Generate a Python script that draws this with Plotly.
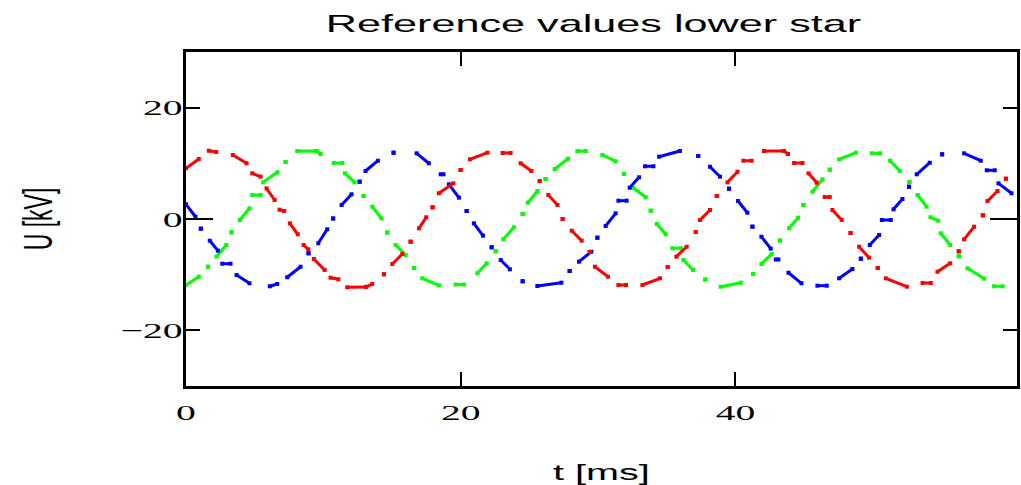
import plotly.graph_objects as go

# ---- data: each entry is one short run of samples (start -> end) ----
# t in ms, U in kV
red_t0 = [0.0, 1.66, 3.41, 4.82, 5.86, 6.81, 7.56, 8.56, 9.31, 10.52, 11.74, 13.12, 14.41, 15.02, 16.35, 16.96, 17.95, 18.41, 19.99, 20.67, 23.05, 24.36, 25.75, 26.38, 27.42, 28.08, 29.39, 29.77, 31.48, 33.23, 35.07, 35.70, 37.11, 37.42, 38.64, 39.42, 40.58, 42.08, 43.52, 44.27, 45.32, 46.50, 47.06, 48.38, 49.0, 50.36, 50.95, 53.62, 54.71, 56.26, 56.65, 58.01, 58.35, 59.69]
red_u0 = [9.11, 12.27, 11.50, 8.21, 5.51, 1.67, -0.77, -4.67, -7.19, -10.54, -12.27, -12.2, -9.93, -8.08, -4.08, -1.67, 2.10, 4.62, 8.80, 10.72, 11.86, 10.01, 6.83, 4.31, 0.0, -2.10, -5.93, -8.57, -11.86, -11.86, -8.62, -6.77, -2.34, -0.18, 4.13, 6.59, 10.47, 12.21, 12.21, 10.06, 8.21, 3.95, 1.62, -2.51, -4.98, -8.80, -10.65, -11.50, -9.47, -5.80, -3.65, 0.66, 3.23, 7.24]
red_t1 = [0.93, 2.20, 4.41, 5.43, 6.45, 7.15, 8.14, 8.90, 10.09, 11.09, 13.12, 13.56, 14.41, 15.75, 16.35, 17.49, 17.95, 19.46, 19.99, 21.94, 23.63, 25.14, 25.75, 27.04, 27.42, 28.81, 29.39, 30.72, 32.03, 34.51, 35.07, 36.45, 37.11, 38.15, 38.64, 40.15, 41.17, 43.52, 43.83, 44.88, 45.92, 46.87, 47.74, 48.38, 49.73, 50.36, 52.48, 54.22, 55.63, 56.26, 57.38, 58.01, 59.08, 59.69]
red_u1 = [10.78, 12.04, 10.01, 7.60, 3.41, 1.44, -2.75, -5.44, -9.16, -10.83, -12.2, -11.68, -9.93, -6.29, -4.08, 0.31, 2.10, 6.41, 8.80, 11.91, 11.86, 8.62, 6.83, 2.51, 0.0, -3.90, -5.93, -10.36, -11.86, -10.65, -8.62, -4.98, -2.34, 1.62, 4.13, 8.50, 10.47, 12.21, 11.68, 10.06, 6.52, 3.95, -0.18, -2.51, -6.95, -8.80, -12.16, -11.50, -7.96, -5.80, -1.38, 0.66, 5.03, 7.24]

blue_t0 = [0.0, 1.08, 1.73, 2.64, 3.68, 6.10, 7.37, 8.92, 9.63, 10.71, 11.33, 12.64, 13.07, 15.11, 16.79, 18.54, 19.14, 20.43, 20.96, 22.25, 22.91, 24.51, 25.58, 27.93, 28.61, 29.95, 30.55, 31.48, 32.30, 33.42, 34.44, 37.29, 38.15, 39.53, 40.19, 41.24, 41.89, 42.94, 43.86, 45.97, 47.55, 49.13, 49.78, 50.66, 51.51, 52.64, 53.20, 55.05, 56.65, 58.30, 59.15]
blue_u0 = [2.64, -1.74, -3.90, -8.03, -10.06, -12.09, -10.47, -6.16, -4.36, 0.09, 2.51, 6.70, 8.62, 11.91, 11.80, 8.03, 6.23, 1.44, -0.77, -5.08, -7.36, -11.19, -12.04, -9.34, -7.67, -3.36, -1.26, 3.29, 5.62, 9.47, 11.19, 11.32, 9.39, 5.44, 3.23, -1.38, -3.18, -7.27, -9.65, -11.98, -10.65, -7.13, -4.67, -0.18, 1.74, 5.80, 8.03, 11.62, 11.80, 8.75, 6.41]
blue_t1 = [0.69, 1.08, 2.32, 3.24, 4.62, 6.64, 8.34, 8.92, 10.28, 10.71, 12.05, 12.64, 13.97, 15.11, 17.68, 18.75, 19.87, 20.43, 21.62, 22.25, 23.58, 24.51, 27.33, 27.93, 29.51, 29.95, 31.28, 32.08, 32.98, 34.03, 35.96, 37.29, 38.88, 39.53, 40.87, 41.24, 42.57, 43.13, 44.81, 46.65, 48.52, 49.13, 50.46, 51.31, 52.16, 52.64, 54.15, 55.05, 57.86, 58.88, 60.10]
blue_u1 = [0.41, -1.74, -5.69, -8.03, -11.55, -11.68, -8.57, -6.16, -1.85, 0.09, 4.44, 6.70, 10.47, 11.91, 10.01, 8.03, 3.83, 1.44, -3.0, -5.08, -9.04, -11.19, -11.44, -9.34, -5.87, -3.36, 1.02, 3.29, 7.49, 9.47, 12.21, 11.32, 7.60, 5.44, 1.13, -1.38, -5.33, -7.27, -11.55, -11.98, -8.98, -7.13, -2.87, -0.18, 3.59, 5.80, 10.11, 11.62, 10.47, 8.75, 4.62]

green_t0 = [0.0, 1.60, 2.22, 3.31, 3.92, 4.82, 5.62, 7.25, 8.10, 9.50, 10.76, 11.57, 12.93, 13.56, 14.64, 15.26, 16.61, 17.20, 19.63, 21.21, 22.54, 23.10, 24.51, 24.89, 26.18, 26.84, 28.49, 30.31, 31.89, 32.54, 33.83, 34.27, 35.41, 36.21, 37.80, 38.93, 41.28, 41.89, 43.23, 43.90, 44.95, 45.61, 46.87, 47.55, 49.93, 51.26, 52.67, 53.26, 54.20, 54.95, 56.26, 56.90, 58.83]
green_u0 = [-11.86, -8.57, -6.77, -2.39, -0.18, 4.31, 6.59, 10.24, 12.21, 12.21, 10.06, 8.21, 4.13, 2.21, -2.43, -4.67, -8.80, -10.65, -11.77, -9.75, -5.80, -3.65, 0.90, 2.93, 7.19, 8.98, 12.21, 11.50, 8.08, 5.62, 1.49, -0.90, -5.26, -7.36, -10.87, -12.16, -9.88, -8.08, -3.86, -1.67, 2.51, 4.90, 8.86, 10.72, 11.80, 10.47, 6.65, 4.31, 0.31, -2.57, -6.70, -8.86, -12.09]
green_t1 = [0.93, 1.60, 2.93, 3.31, 4.62, 5.43, 6.64, 7.25, 9.50, 9.80, 11.38, 12.27, 12.93, 14.22, 14.64, 15.99, 16.61, 18.41, 20.23, 21.89, 22.54, 23.87, 24.51, 25.58, 26.18, 27.81, 29.10, 31.28, 31.89, 33.47, 33.83, 34.92, 36.02, 36.91, 37.80, 40.39, 41.28, 42.64, 43.23, 44.56, 44.95, 46.34, 46.87, 48.76, 50.53, 51.97, 52.67, 53.91, 54.76, 55.63, 56.26, 58.11, 59.45]
green_u1 = [-10.36, -8.57, -4.67, -2.39, 1.92, 4.31, 8.39, 10.24, 12.21, 11.68, 10.06, 6.59, 4.13, 0.13, -2.43, -6.47, -8.80, -11.91, -11.77, -7.96, -5.80, -1.49, 0.90, 5.03, 7.19, 10.83, 12.21, 10.36, 8.08, 3.90, 1.49, -2.75, -5.26, -9.16, -10.87, -11.44, -9.88, -6.29, -3.86, 0.23, 2.51, 7.13, 8.86, 11.91, 11.80, 8.62, 6.65, 2.21, -0.31, -4.67, -6.70, -10.72, -12.09]

x_ticks = [0, 20, 40]
y_ticks = [-20, 0, 20]
title_text = "Reference values lower star"
x_title = "t [ms]"
y_title = "U [kV]"


def runs(t0, u0, t1, u1):
    xs, ys = [], []
    for a, b, c, d in zip(t0, u0, t1, u1):
        xs += [a, c, None]
        ys += [b, d, None]
    return xs, ys


fig = go.Figure()
series = [
    ("green", "#00ff00", (green_t0, green_u0, green_t1, green_u1)),
    ("blue", "#0000ff", (blue_t0, blue_u0, blue_t1, blue_u1)),
    ("red", "#ff0000", (red_t0, red_u0, red_t1, red_u1)),
]
for name, col, arrs in series:
    xs, ys = runs(*arrs)
    fig.add_trace(go.Scatter(
        x=xs, y=ys, name=name, mode="lines+markers",
        line=dict(color=col, width=3),
        marker=dict(symbol="square", size=4, color=col, line=dict(width=0)),
        showlegend=False, hoverinfo="skip",
    ))
# empty trace so the overlay axis (long zero tick) is drawn
fig.add_trace(go.Scatter(x=[], y=[], yaxis="y2", showlegend=False, hoverinfo="skip"))

sans = "Liberation Sans, Arial, sans-serif"
serif = "Liberation Serif, Times New Roman, serif"

fig.update_layout(
    width=1021, height=485,
    margin=dict(l=186, r=4, t=52, b=99),
    paper_bgcolor="white", plot_bgcolor="white",
    title=dict(text=title_text, font=dict(family=sans, size=24, color="black"),
               x=0.4904, xref="paper", xanchor="center",
               y=1 - 24 / 485, yref="container", yanchor="middle"),
    xaxis=dict(range=[0, 60.5], tickvals=x_ticks, ticks="inside", ticklen=14, tickwidth=2,
               tickcolor="black", showline=True, linewidth=3, linecolor="black",
               mirror="ticks", showgrid=False, zeroline=False, automargin=False,
               tickfont=dict(family=serif, size=22, color="black"), ticklabelstandoff=5,
               title=dict(text=x_title, font=dict(family=sans, size=22, color="black"), standoff=49)),
    yaxis=dict(range=[-30, 30], tickvals=y_ticks, ticks="inside", ticklen=14, tickwidth=2,
               tickcolor="black", showline=True, linewidth=3, linecolor="black",
               mirror="ticks", showgrid=False, zeroline=False, automargin=False,
               tickfont=dict(family=serif, size=22, color="black"), ticklabelstandoff=-4,
               title=dict(text=y_title, font=dict(family=sans, size=23, color="black"), standoff=96)),
    yaxis2=dict(overlaying="y", anchor="x", side="left", range=[-30, 30], tickvals=[0],
                ticks="inside", ticklen=27, tickwidth=2, tickcolor="black",
                showticklabels=False, showline=False, mirror="ticks", automargin=False,
                showgrid=False, zeroline=False),
)

post = """
document.body.style.margin='0';
var gd=document.getElementById('{plot_id}');
var S=1.8;
var els=gd.querySelectorAll('text.gtitle, text.xtitle, text.ytitle, g.xtick text, g.ytick text');
els.forEach(function(t){
  var b; try{b=t.getBBox();}catch(e){return;}
  var tr=t.getAttribute('transform')||'';
  if(t.classList.contains('ytitle')){
    var cy=b.y+b.height/2;
    t.setAttribute('transform',tr+' translate(0,'+cy+') scale(1,'+S+') translate(0,'+(-cy)+')');
  } else {
    var a=t.getAttribute('text-anchor')||'start';
    var cx=a==='end'?b.x+b.width:(a==='middle'?b.x+b.width/2:b.x);
    t.setAttribute('transform',tr+' translate('+cx+',0) scale('+S+',1) translate('+(-cx)+',0)');
  }
});
"""

fig.write_html("out.html", config={"displayModeBar": False}, post_script=post)
